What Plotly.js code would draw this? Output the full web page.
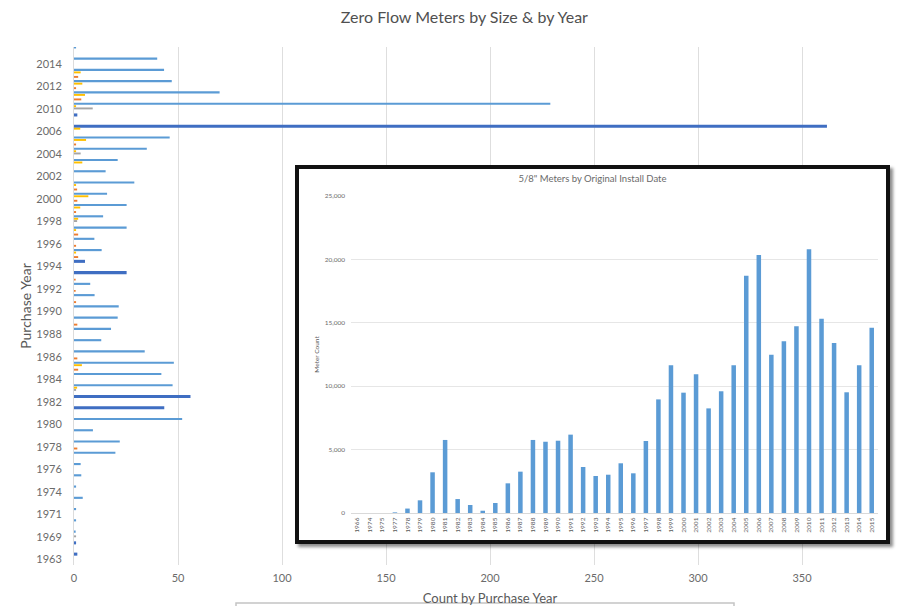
<!DOCTYPE html>
<html>
<head>
<meta charset="utf-8">
<script src="https://cdn.plot.ly/plotly-3.0.1.min.js"></script>
<style>
  html, body { margin: 0; padding: 0; background: #fff; }
  #wrap { position: relative; width: 916px; height: 606px; overflow: hidden; }
  #main { position: absolute; left: 0; top: 0; width: 916px; height: 606px; }
  #inset {
    position: absolute; left: 295px; top: 165px; width: 587px; height: 371px;
    border: 4px solid #111; background: #fff;
    box-shadow: 3px 3px 3px rgba(0, 0, 0, 0.45);
  }
</style>
</head>
<body>
<div id="wrap"><div id="main"></div><div id="inset"></div></div>
<script>
// ---- Zero-flow meters by purchase year, one series per meter size ----
const purchaseYears = ["1963","1966","1969","1970","1971","1973","1974","1975","1976","1977",
  "1978","1979","1980","1981","1982","1983","1984","1985","1986","1987",
  "1988","1989","1990","1991","1992","1993","1994","1995","1996","1997",
  "1998","1999","2000","2001","2002","2003","2004","2005","2006","2009",
  "2010","2011","2012","2013","2014","2015"];

const size58 = [0, 0, 0.8, 1, 1, 4.2, 1, 3.5, 3.2, 19.9,
  22, 9.1, 52, 0, 0, 47.4, 42, 48, 34, 13.1,
  17.8, 21, 21.5, 9.9, 7.8, 0, 0, 13.3, 9.8, 25.3,
  14, 25.3, 15.9, 29, 15.2, 21, 35, 46, 0, 0,
  229, 70, 47, 43.3, 40, 1];

const size34 = [1.6, 1, 0, 0, 0, 0, 0, 0, 0, 0,
  0, 0, 0, 43.4, 56, 0, 0, 0, 0, 0,
  0, 0, 0, 0, 0, 25.3, 5.3, 0, 0, 0,
  0, 0, 0, 0, 0, 0, 0, 0, 362, 1.6,
  0, 0, 0, 0, 0, 0];

const size1 = [0, 0, 0, 0, 0, 0, 0, 0, 0, 0,
  0, 0, 0, 0, 0, 1.5, 0, 3.8, 0, 0,
  0, 0, 0, 0, 0, 0, 0, 1, 0, 1,
  2, 3, 6.9, 1, 0, 4, 1, 5.8, 3, 0,
  1, 5.3, 4, 3.2, 0, 0];

const size15 = [0, 0, 1, 0, 0, 0, 0, 0, 0, 0,
  0, 0, 0, 0, 0, 1, 0, 0, 0, 0,
  0, 0, 0, 0, 0, 0, 0, 0, 0, 0,
  1.5, 0, 0, 0, 0, 0, 3.2, 0, 0, 0,
  9, 0, 0, 0, 0, 0];

const size2 = [0, 0, 0, 0, 0, 0, 0, 0, 0, 0,
  1.6, 0, 0, 0, 0, 0, 0, 2, 1.6, 0,
  0, 1.6, 0, 1, 0.8, 0.8, 0, 2, 1, 2,
  0, 1, 1.6, 1.5, 0, 0, 0, 1, 0, 0,
  0, 3.5, 1, 2, 0, 0];

const countTicks = [0, 50, 100, 150, 200, 250, 300, 350, 400];

// ---- 5/8" meters by original install date ----
const installYears = ["1966","1974","1975","1977","1978","1979","1980","1981","1982","1983",
  "1984","1985","1986","1987","1988","1989","1990","1991","1992","1993",
  "1994","1995","1996","1997","1998","1999","2000","2001","2002","2003",
  "2004","2005","2006","2007","2008","2009","2010","2011","2012","2013",
  "2014","2015"];

const meterCount = [0, 0, 0, 50, 350, 1000, 3210, 5760, 1100, 630,
  180, 790, 2340, 3260, 5760, 5620, 5700, 6180, 3630, 2920,
  3020, 3920, 3130, 5680, 8960, 11650, 9490, 10940, 8250, 9600,
  11650, 18720, 20350, 12490, 13540, 14720, 20800, 15320, 13400, 9520,
  11650, 14610];

const meterTicks = [0, 5000, 10000, 15000, 20000, 25000];

const FONT = "Lato, 'Open Sans', 'Liberation Sans', sans-serif";
const GREY_TEXT = "#6b6b6b";

function sizeTrace(name, values, color, offset, width) {
  return {
    type: "bar", orientation: "h", name: name,
    y: purchaseYears, x: values,
    offset: offset, width: width,
    marker: { color: color, line: { width: 0 } },
    hoverinfo: "skip"
  };
}

const mainTraces = [
  sizeTrace('5/8"', size58, "#5B9BD5", 0.37, 0.19),
  sizeTrace('3/4"', size34, "#3F6EC2", 0.33, 0.27),
  sizeTrace('1"', size1, "#FFC000", 0.16, 0.17),
  sizeTrace('1 1/2"', size15, "#A5A5A5", -0.04, 0.17),
  sizeTrace('2"', size2, "#ED7D31", -0.24, 0.17)
];

const labelledYears = purchaseYears.filter((_, i) => i % 2 === 0);

const mainLayout = {
  width: 916, height: 606,
  margin: { l: 74, r: 10, t: 47, b: 41 },
  paper_bgcolor: "#fff", plot_bgcolor: "#fff",
  barmode: "overlay", showlegend: false,
  font: { family: FONT, color: GREY_TEXT },
  title: {
    text: "Zero Flow Meters by Size &amp; by Year",
    x: 0.507, xanchor: "center", y: 0.972, yanchor: "middle",
    font: { family: FONT, size: 16, color: "#505050" }
  },
  xaxis: {
    range: [0, 400], tickmode: "array", tickvals: countTicks,
    showgrid: true, gridcolor: "#dedede", gridwidth: 1,
    zeroline: false, showline: false, ticks: "",
    ticklabelstandoff: 5,
    tickfont: { family: FONT, size: 11, color: GREY_TEXT },
    title: { text: "Count by Purchase Year", standoff: 14,
             font: { family: FONT, size: 13, color: "#595959" } }
  },
  yaxis: {
    type: "category", categoryorder: "array", categoryarray: purchaseYears,
    range: [-0.5, purchaseYears.length - 0.5],
    tickmode: "array", tickvals: labelledYears, ticktext: labelledYears,
    showgrid: false, zeroline: false,
    showline: true, linecolor: "#dcdcdc", linewidth: 1,
    ticks: "", ticklabelstandoff: 9,
    tickfont: { family: FONT, size: 11, color: GREY_TEXT },
    title: { text: "Purchase Year", standoff: 1,
             font: { family: FONT, size: 14, color: "#595959" } }
  },
  shapes: [{
    type: "rect", xref: "paper", yref: "paper",
    x0: (236 - 74) / 832, x1: (734 - 74) / 832,
    y0: -0.0734, y1: -0.095,
    line: { color: "#c4c4c4", width: 1.5 }, fillcolor: "rgba(0,0,0,0)"
  }]
};

Plotly.newPlot("main", mainTraces, mainLayout, { staticPlot: true, displayModeBar: false });

// ---- inset column chart ----
const insetTraces = [{
  type: "bar", x: installYears, y: meterCount,
  width: 0.36,
  marker: { color: "#5B9BD5", line: { width: 0 } },
  hoverinfo: "skip"
}];

const insetLayout = {
  width: 587, height: 371,
  margin: { l: 52, r: 8, t: 27, b: 27 },
  paper_bgcolor: "#fff", plot_bgcolor: "#fff",
  showlegend: false,
  font: { family: FONT, color: GREY_TEXT },
  title: {
    text: '5/8" Meters by Original Install Date',
    x: 0.5, xanchor: "center", y: 0.973, yanchor: "middle",
    font: { family: FONT, size: 9.5, color: "#6a6a6a" }
  },
  xaxis: {
    type: "category", categoryorder: "array", categoryarray: installYears,
    range: [-0.5, installYears.length - 0.5],
    tickangle: -90, ticks: "", showgrid: false, zeroline: false,
    showline: true, linecolor: "#d9d9d9", linewidth: 1,
    ticklabelstandoff: 1,
    tickfont: { family: FONT, size: 6.5, color: "#595959" }
  },
  yaxis: {
    range: [0, 25000], tickmode: "array", tickvals: meterTicks,
    tickformat: ",d", ticks: "",
    showgrid: true, gridcolor: "#e6e6e6", gridwidth: 1,
    zeroline: false, showline: false,
    ticklabelstandoff: 5,
    tickfont: { family: FONT, size: 6.5, color: GREY_TEXT },
    title: { text: "Meter Count", standoff: 4,
             font: { family: FONT, size: 6.5, color: "#595959" } }
  }
};

Plotly.newPlot("inset", insetTraces, insetLayout, { staticPlot: true, displayModeBar: false });
</script>
</body>
</html>
